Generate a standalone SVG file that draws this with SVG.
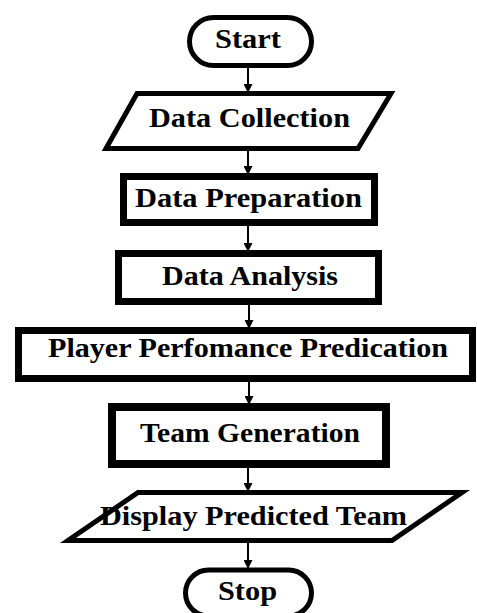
<svg xmlns="http://www.w3.org/2000/svg" width="477" height="613" viewBox="0 0 477 613">
<style>
.s{fill:#fff;stroke:#000;stroke-linejoin:miter}
.t{font-family:"Liberation Serif","Times New Roman",serif;font-weight:bold;font-size:28px;fill:#000;text-anchor:middle}
.c{stroke:#000;stroke-width:2;fill:none;marker-end:url(#ah)}
</style>
<defs>
<marker id="ah" markerWidth="9" markerHeight="9" refX="8" refY="4.5" orient="auto" markerUnits="userSpaceOnUse" viewBox="0 0 9 9">
<path d="M0,0 L9,4.5 L0,9 Z" fill="#000"/>
</marker>
</defs>
<rect width="477" height="613" fill="#fff"/>
<g id="connectors">
<line class="c" x1="248" y1="68" x2="248" y2="92"/>
<line class="c" x1="248" y1="151" x2="248" y2="174"/>
<line class="c" x1="248" y1="226" x2="248" y2="251"/>
<line class="c" x1="249" y1="305" x2="249" y2="328"/>
<line class="c" x1="249" y1="382" x2="249" y2="404"/>
<line class="c" x1="248" y1="468" x2="248" y2="491"/>
<line class="c" x1="248" y1="543" x2="248" y2="568"/>
</g>
<g id="start">
<rect class="s" x="189.5" y="17.5" width="122" height="48" rx="24" ry="24" stroke-width="5"/>
<text class="t" x="248" y="48" textLength="66" lengthAdjust="spacingAndGlyphs">Start</text>
</g>
<g id="data-collection">
<polygon class="s" points="137,93.5 391,93.5 358,148.5 106,148.5" stroke-width="5"/>
<text class="t" x="249.5" y="127" textLength="201" lengthAdjust="spacingAndGlyphs">Data Collection</text>
</g>
<g id="data-preparation">
<rect class="s" x="123.5" y="176.5" width="251" height="46" stroke-width="7"/>
<text class="t" x="248.5" y="207" textLength="227" lengthAdjust="spacingAndGlyphs">Data Preparation</text>
</g>
<g id="data-analysis">
<rect class="s" x="118.5" y="253.5" width="260" height="48" stroke-width="7"/>
<text class="t" x="250" y="285" textLength="176" lengthAdjust="spacingAndGlyphs">Data Analysis</text>
</g>
<g id="player-performance">
<rect class="s" x="18.5" y="330.5" width="454" height="48" stroke-width="7"/>
<text class="t" x="248" y="357" textLength="400" lengthAdjust="spacingAndGlyphs">Player Perfomance Predication</text>
</g>
<g id="team-generation">
<rect class="s" x="112" y="407" width="274" height="57" stroke-width="8"/>
<text class="t" x="250" y="442" textLength="220" lengthAdjust="spacingAndGlyphs">Team Generation</text>
</g>
<g id="display-team">
<polygon class="s" points="138,492.5 462,492.5 392,540.5 68,540.5" stroke-width="5"/>
<text class="t" x="253.5" y="525" textLength="307" lengthAdjust="spacingAndGlyphs">Display Predicted Team</text>
</g>
<g id="stop">
<rect class="s" x="185.5" y="570" width="126" height="46" rx="23" ry="23" stroke-width="5"/>
<text class="t" x="247.5" y="600" textLength="59" lengthAdjust="spacingAndGlyphs">Stop</text>
</g>
</svg>
